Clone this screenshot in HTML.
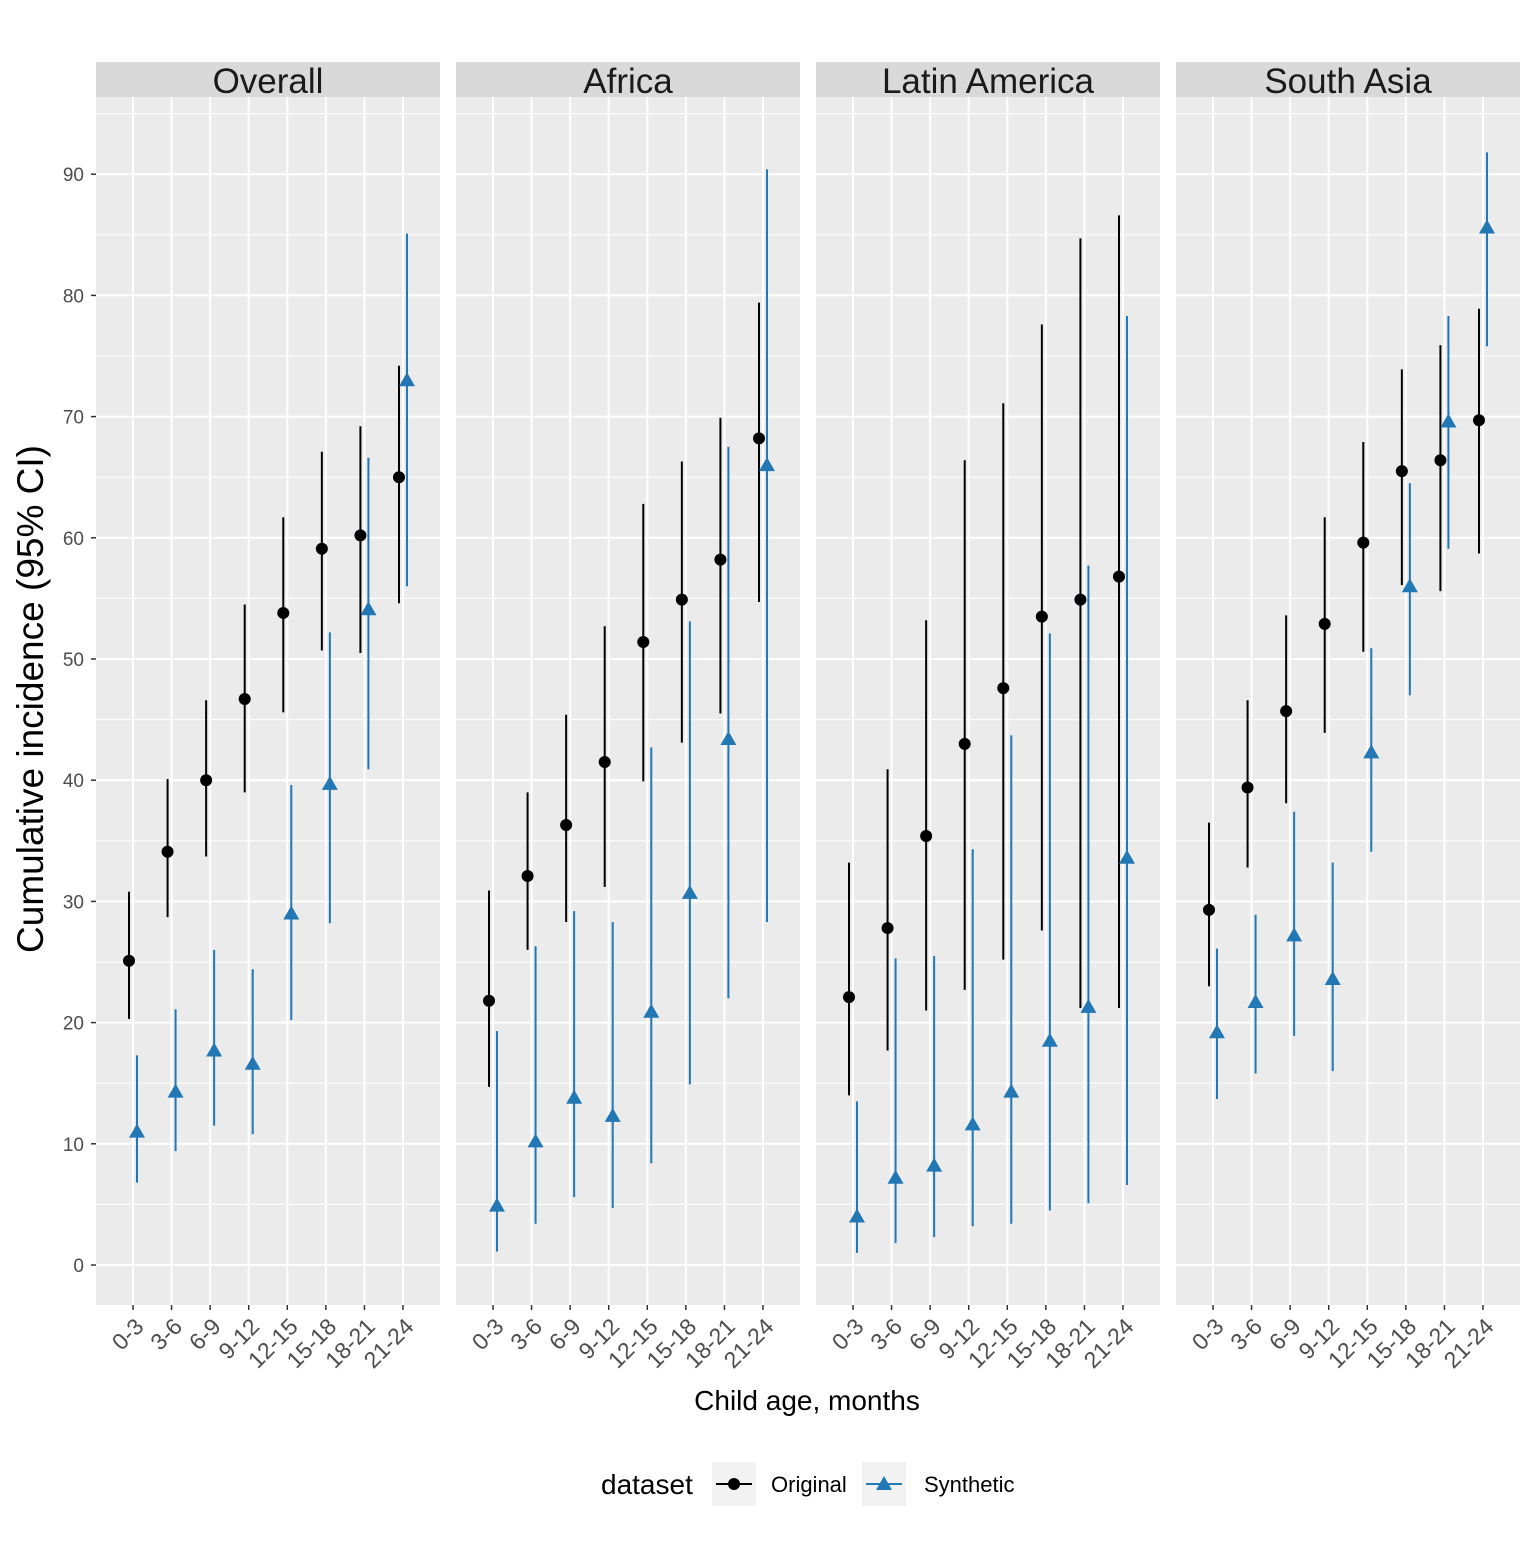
<!DOCTYPE html>
<html><head><meta charset="utf-8"><style>
body{margin:0;background:#fff}
svg text{font-family:"Liberation Sans",Arial,sans-serif}
</style></head><body>
<svg id="chart" width="1536" height="1536" xmlns="http://www.w3.org/2000/svg">
<rect width="1536" height="1536" fill="#fff"/>
</svg>
<script>
const panels=["Overall","Africa","Latin America","South Asia"];
const categories=["0-3","3-6","6-9","9-12","12-15","15-18","18-21","21-24"];
const yTicks=[0,10,20,30,40,50,60,70,80,90];
const origVal=[[25.1,34.1,40,46.7,53.8,59.1,60.2,65],[21.8,32.1,36.3,41.5,51.4,54.9,58.2,68.2],[22.1,27.8,35.4,43,47.6,53.5,54.9,56.8],[29.3,39.4,45.7,52.9,59.6,65.5,66.4,69.7]];
const origLo=[[20.3,28.7,33.7,39,45.6,50.7,50.5,54.6],[14.7,26,28.3,31.2,39.9,43.1,45.5,54.7],[14,17.7,21,22.7,25.2,27.6,21.2,21.2],[23,32.8,38.1,43.9,50.6,56.1,55.6,58.7]];
const origHi=[[30.8,40.1,46.6,54.5,61.7,67.1,69.2,74.2],[30.9,39,45.4,52.7,62.8,66.3,69.9,79.4],[33.2,40.9,53.2,66.4,71.1,77.6,84.7,86.6],[36.5,46.6,53.6,61.7,67.9,73.9,75.9,78.9]];
const synVal=[[11,14.3,17.7,16.6,29,39.7,54.1,73],[4.9,10.2,13.8,12.3,20.9,30.7,43.4,66],[4,7.2,8.2,11.6,14.3,18.5,21.3,33.6],[19.2,21.7,27.2,23.6,42.3,56,69.6,85.6]];
const synLo=[[6.8,9.4,11.5,10.8,20.2,28.2,40.9,56],[1.1,3.4,5.6,4.7,8.4,14.9,22,28.3],[1,1.8,2.3,3.2,3.4,4.5,5.1,6.6],[13.7,15.8,18.9,16,34.1,47,59.1,75.8]];
const synHi=[[17.3,21.1,26,24.4,39.6,52.2,66.6,85.1],[19.3,26.3,29.2,28.3,42.7,53.1,67.5,90.4],[13.5,25.3,25.5,34.3,43.7,52.1,57.7,78.3],[26.1,28.9,37.4,33.2,50.9,64.5,78.3,91.8]];

const NS="http://www.w3.org/2000/svg";
const svg=document.getElementById('chart');
function el(t,a,p){const e=document.createElementNS(NS,t);for(const k in a)e.setAttribute(k,a[k]);(p||svg).appendChild(e);return e;}
const y=v=>1265-v*12.12;
const panelX=i=>96+i*360;
const xc=(p,j)=>panelX(p)+37+j*38.57;
const BLUE="#2178b4";
panels.forEach((name,p)=>{
  const g=el('g',{});
  
  
  const px=panelX(p);
  el('rect',{x:px,y:97,width:344,height:1208,fill:'#ebebeb'},g);
  for(let v=5;v<=95;v+=10) el('line',{x1:px,x2:px+344,y1:y(v),y2:y(v),stroke:'#fff','stroke-width':1},g);
  yTicks.forEach(v=>el('line',{x1:px,x2:px+344,y1:y(v),y2:y(v),stroke:'#fff','stroke-width':2},g));
  categories.forEach((c,j)=>{
    const x=xc(p,j);
    el('line',{x1:x,x2:x,y1:97,y2:1305,stroke:'#fff','stroke-width':2},g);
    el('line',{x1:x,x2:x,y1:1305,y2:1310,stroke:'#333','stroke-width':1.5},g);
    const ax=x+12, ay=1328;
    const t=el('text',{x:ax,y:ay,'font-size':23,fill:'#4d4d4d','text-anchor':'end',transform:`rotate(-45 ${ax} ${ay})`},g);
    t.textContent=c;
    
    
  });
  const s=el('rect',{x:px,y:62,width:344,height:35,fill:'#d9d9d9'},g);
  
  
  const st=el('text',{x:px+172,y:93,'font-size':35,fill:'#1a1a1a','text-anchor':'middle'},g);
  st.textContent=name;
  categories.forEach((c,j)=>{
    const xo=xc(p,j)-4, xs=xc(p,j)+4;
    const l1=el('line',{x1:xo,x2:xo,y1:y(origLo[p][j]),y2:y(origHi[p][j]),stroke:'#000','stroke-width':2},g);
    
    
    const c1=el('circle',{cx:xo,cy:y(origVal[p][j]),r:6,fill:'#000'},g);
    
    
    const l2=el('line',{x1:xs,x2:xs,y1:y(synLo[p][j]),y2:y(synHi[p][j]),stroke:BLUE,'stroke-width':2},g);
    
    
    const cy=y(synVal[p][j]);
    const t2=el('polygon',{points:`${xs},${cy-8} ${xs-8},${cy+6} ${xs+8},${cy+6}`,fill:BLUE},g);
    
    
  });
});
yTicks.forEach(v=>{
  el('line',{x1:91,x2:96,y1:y(v),y2:y(v),stroke:'#333','stroke-width':1.5});
  const t=el('text',{x:84,y:y(v)+7,'font-size':19,fill:'#4d4d4d','text-anchor':'end'});
  t.textContent=v;
  
  
});
const yt=el('text',{x:43,y:699,'font-size':37,fill:'#000','text-anchor':'middle',transform:'rotate(-90 43 699)'});
yt.textContent='Cumulative incidence (95% CI)';


const xt=el('text',{x:807,y:1410,'font-size':28,fill:'#000','text-anchor':'middle'});
xt.textContent='Child age, months';


const lg=el('g',{});


const lt=el('text',{x:601,y:1494,'font-size':28,fill:'#000'},lg);lt.textContent='dataset';
el('rect',{x:712,y:1462,width:44,height:44,fill:'#f2f2f2'},lg);
el('line',{x1:716,x2:752,y1:1484,y2:1484,stroke:'#000','stroke-width':2},lg);
el('circle',{cx:734,cy:1484,r:6,fill:'#000'},lg);
const o=el('text',{x:771,y:1492,'font-size':22,fill:'#000'},lg);o.textContent='Original';
el('rect',{x:862,y:1462,width:44,height:44,fill:'#f2f2f2'},lg);
el('line',{x1:866,x2:902,y1:1484,y2:1484,stroke:BLUE,'stroke-width':2},lg);
el('polygon',{points:'884,1476 876,1490 892,1490',fill:BLUE},lg);
const sy=el('text',{x:924,y:1492,'font-size':22,fill:'#000'},lg);sy.textContent='Synthetic';
</script>
</body></html>
